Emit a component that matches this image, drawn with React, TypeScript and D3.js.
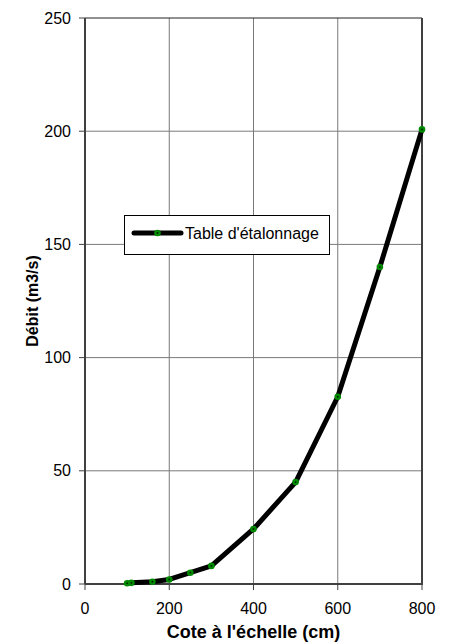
import React from "react";
import * as d3 from "d3";

const cote = [100, 110, 160, 200, 250, 300, 400, 500, 600, 700, 800];
const debit = [0.3, 0.5, 1, 2, 5, 8, 24.3, 45, 82.7, 140, 200.8];
const xTicks = [0, 200, 400, 600, 800];
const yTicks = [0, 50, 100, 150, 200, 250];
const seriesName = "Table d'étalonnage";
const xTitle = "Cote à l'échelle (cm)";
const yTitle = "Débit (m3/s)";

export default function App() {
  const W = 450, H = 643;
  const left = 85, right = 422, top = 18, bottom = 584;
  const x = d3.scaleLinear().domain([0, 800]).range([left, right]);
  const y = d3.scaleLinear().domain([0, 250]).range([bottom, top]);
  const pts = cote.map((c, i) => [c, debit[i]] as [number, number]);
  const line = d3.line<[number, number]>().x(d => x(d[0])).y(d => y(d[1]));
  const font = "'Liberation Sans', Arial, sans-serif";
  const grid = "#7a7a7a";
  const axis = "#404040";
  return (
    <svg width={W} height={H} style={{ position: "absolute", left: 0, top: 0, background: "#fff" }} fontFamily={font}>
      <rect x={0} y={0} width={W} height={H} fill="#fff" />
      {xTicks.filter(t => t > 0 && t < 800).map(t => (
        <line key={"gx" + t} x1={x(t)} x2={x(t)} y1={top} y2={bottom} stroke={grid} strokeWidth={1} />
      ))}
      {yTicks.filter(t => t > 0).map(t => (
        <line key={"gy" + t} x1={left} x2={right} y1={y(t)} y2={y(t)} stroke={t === 250 ? "#222" : grid} strokeWidth={1} />
      ))}
      {/* axes */}
      <line x1={left} x2={left} y1={top} y2={bottom} stroke={axis} strokeWidth={2} />
      <line x1={right} x2={right} y1={top} y2={bottom + 1} stroke={axis} strokeWidth={2} />
      <line x1={left} x2={right} y1={bottom} y2={bottom} stroke={axis} strokeWidth={2} />
      {yTicks.map(t => (
        <g key={"ty" + t}>
          <line x1={left - 6} x2={left} y1={y(t)} y2={y(t)} stroke={axis} strokeWidth={1} />
          <text x={71} y={y(t) + 5.5} textAnchor="end" fontSize={16} fill="#000">{t}</text>
        </g>
      ))}
      {xTicks.map(t => (
        <g key={"tx" + t}>
          <line x1={x(t)} x2={x(t)} y1={bottom} y2={bottom + 6} stroke={axis} strokeWidth={1} />
          <text x={x(t)} y={614} textAnchor="middle" fontSize={16} fill="#000">{t}</text>
        </g>
      ))}
      <path d={line(pts) || ""} fill="none" stroke="#000" strokeWidth={5} strokeLinejoin="round" />
      {pts.map((p, i) => (
        <g key={"m" + i}>
          <circle cx={x(p[0])} cy={y(p[1])} r={3.3} fill="#008a00" />
          <circle cx={x(p[0])} cy={y(p[1])} r={0.9} fill="#002000" />
        </g>
      ))}
      {/* legend */}
      <rect x={124.5} y={215.5} width={205} height={39} fill="#fff" stroke="#000" strokeWidth={1} />
      <line x1={134} x2={181} y1={233} y2={233} stroke="#000" strokeWidth={5} strokeLinecap="round" />
      <circle cx={157.5} cy={233} r={3.3} fill="#008a00" />
      <circle cx={157.5} cy={233} r={0.9} fill="#002000" />
      <text x={185} y={239} fontSize={16} fill="#000">{seriesName}</text>
      <text x={(left + right) / 2} y={638} textAnchor="middle" fontSize={18} fontWeight="bold" fill="#000">{xTitle}</text>
      <text transform={`translate(38,${(top + bottom) / 2}) rotate(-90)`} textAnchor="middle" fontSize={16} fontWeight="bold" fill="#000">{yTitle}</text>
    </svg>
  );
}
